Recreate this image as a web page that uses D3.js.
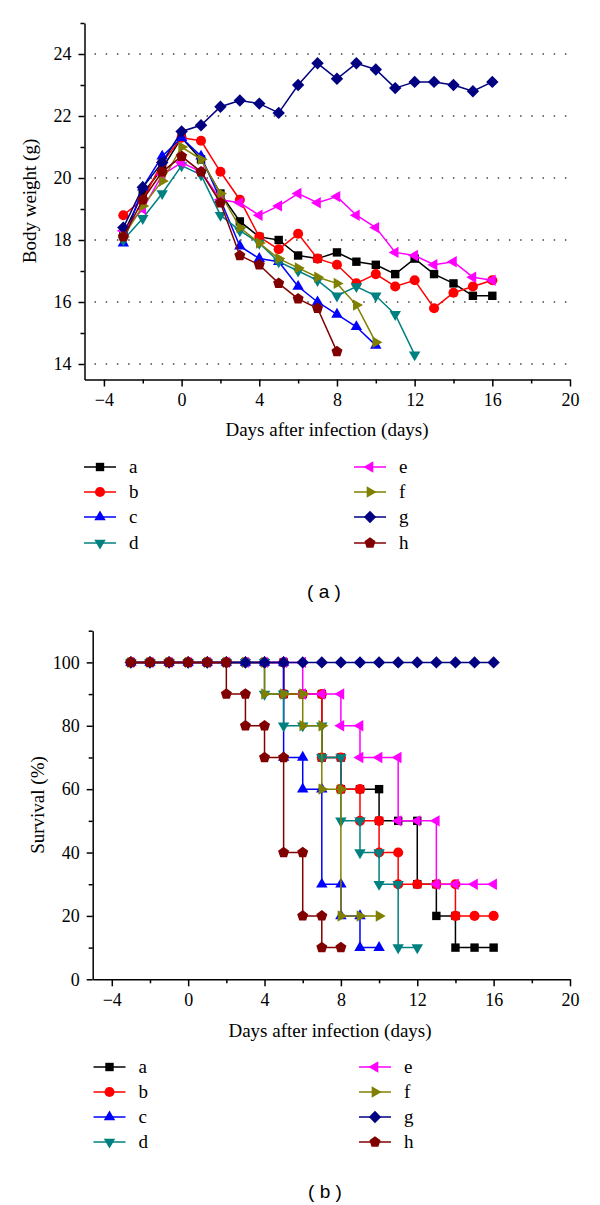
<!DOCTYPE html>
<html><head><meta charset="utf-8">
<script src="https://cdn.jsdelivr.net/npm/d3@7"></script>
<style>
html,body{margin:0;padding:0;background:#fff;}
svg text{font-family:"Liberation Serif","Times New Roman",serif;fill:#000;}
</style></head>
<body>
<svg id="chart" width="600" height="1205"></svg>
<script>
// ---------- DATA ----------
const seriesNames = ["a","b","c","d","e","f","g","h"];
const seriesColors = ["#000000","#ff0000","#0000ff","#008080","#ff00ff","#808000","#000080","#800000"];
const seriesSymbols = ["square","circle","triUp","triDown","triLeft","triRight","diamond","pentagon"];

// Panel (a): body weight (g), days -3 .. 16
const weightDays = [-3,-2,-1,0,1,2,3,4,5,6,7,8,9,10,11,12,13,14,15,16];
const weightA = [18.2,19.5,20.3,21.3,20.6,19.5,18.6,18.1,18.0,17.5,17.4,17.6,17.3,17.2,16.9,17.4,16.9,16.6,16.2,16.2];
const weightB = [18.8,19.3,20.5,21.3,21.2,20.2,19.3,18.1,17.7,18.2,17.4,17.2,16.6,16.9,16.5,16.7,15.8,16.3,16.5,16.7];
const weightC = [17.9,19.7,20.7,21.3,20.7,19.3,17.8,17.4,17.3,16.5,16.0,15.6,15.2,14.6];
const weightD = [18.0,18.7,19.5,20.4,20.1,18.8,18.3,17.9,17.3,17.0,16.7,16.2,16.5,16.2,15.6,14.3];
const weightE = [18.3,19.0,20.1,20.5,20.2,19.3,19.2,18.8,19.1,19.5,19.2,19.4,18.8,18.4,17.6,17.5,17.2,17.3,16.8,16.7];
const weightF = [18.1,19.1,19.9,21.0,20.6,19.5,18.4,17.9,17.4,17.1,16.8,16.6,15.9,14.7];
const weightG = [18.4,19.7,20.5,21.5,21.7,22.3,22.5,22.4,22.1,23.0,23.7,23.2,23.7,23.5,22.9,23.1,23.1,23.0,22.8,23.1];
const weightH = [18.1,19.3,20.2,20.7,20.2,19.2,17.5,17.2,16.6,16.1,15.8,14.4];
const weightTicksX = [-4,0,4,8,12,16,20];
const weightMinorX = [-2,2,6,10,14,18];
const weightTicksY = [14,16,18,20,22,24];
const weightMinorY = [15,17,19,21,23,25];

// Panel (b): survival (%), [day, value] points (step curve)
const survA = [[-3,100],[-2,100],[-1,100],[0,100],[1,100],[2,100],[3,100],[4,100],[5,100],[5,90],[6,90],[7,90],[7,70],[8,70],[8,60],[9,60],[10,60],[10,50],[11,50],[12,50],[12,30],[13,30],[13,20],[14,20],[14,10],[15,10],[16,10]];
const survB = [[-3,100],[-2,100],[-1,100],[0,100],[1,100],[2,100],[3,100],[4,100],[5,100],[5,90],[6,90],[7,90],[7,70],[8,70],[8,60],[9,60],[9,50],[10,50],[10,40],[11,40],[11,30],[12,30],[13,30],[14,30],[14,20],[15,20],[16,20]];
const survC = [[-3,100],[-2,100],[-1,100],[0,100],[1,100],[2,100],[3,100],[4,100],[5,100],[5,70],[6,70],[6,60],[7,60],[7,30],[8,30],[8,20],[9,20],[9,10],[10,10]];
const survD = [[-3,100],[-2,100],[-1,100],[0,100],[1,100],[2,100],[3,100],[4,100],[4,90],[5,90],[5,80],[6,80],[7,80],[7,70],[8,70],[8,50],[9,50],[9,40],[10,40],[10,30],[11,30],[11,10],[12,10]];
const survE = [[-3,100],[-2,100],[-1,100],[0,100],[1,100],[2,100],[3,100],[4,100],[5,100],[6,100],[6,90],[7,90],[8,90],[8,80],[9,80],[9,70],[10,70],[11,70],[11,50],[12,50],[13,50],[13,30],[14,30],[15,30],[16,30]];
const survF = [[-3,100],[-2,100],[-1,100],[0,100],[1,100],[2,100],[3,100],[4,100],[4,90],[5,90],[6,90],[6,80],[7,80],[7,60],[8,60],[8,20],[9,20],[10,20]];
const survG = [[-3,100],[-2,100],[-1,100],[0,100],[1,100],[2,100],[3,100],[4,100],[5,100],[6,100],[7,100],[8,100],[9,100],[10,100],[11,100],[12,100],[13,100],[14,100],[15,100],[16,100]];
const survH = [[-3,100],[-2,100],[-1,100],[0,100],[1,100],[2,100],[2,90],[3,90],[3,80],[4,80],[4,70],[5,70],[5,40],[6,40],[6,20],[7,20],[7,10],[8,10]];
const survTicksX = [-4,0,4,8,12,16,20];
const survMinorX = [-2,2,6,10,14,18];
const survTicksY = [0,20,40,60,80,100];
const survMinorY = [10,30,50,70,90,110];

const xTitle = "Days after infection (days)";
const yTitleA = "Body weight (g)";
const yTitleB = "Survival (%)";

// ---------- DRAW ----------
const svg = d3.select("#chart");

function symbolPath(type){
  const pts = (n, R, rot) => d3.range(n).map(i => {
    const a = rot + i*2*Math.PI/n;
    return [R*Math.cos(a), R*Math.sin(a)];
  });
  const poly = p => "M" + p.map(q => q[0].toFixed(2)+","+q[1].toFixed(2)).join("L") + "Z";
  switch(type){
    case "square": return "M-4.2,-4.2H4.2V4.2H-4.2Z";
    case "circle": return d3.symbol(d3.symbolCircle, 80)();
    case "triUp": return poly(pts(3, 6.6, -Math.PI/2));
    case "triDown": return poly(pts(3, 6.6, Math.PI/2));
    case "triLeft": return poly(pts(3, 6.6, Math.PI));
    case "triRight": return poly(pts(3, 6.6, 0));
    case "diamond": return "M0,-6.2L6.2,0L0,6.2L-6.2,0Z";
    case "pentagon": return poly(pts(5, 5.8, -Math.PI/2));
  }
}

function drawAxes(g, x, y, ticksX, minorX, ticksY, minorY, yFmt){
  const ax = g.append("g").attr("transform", `translate(0,${y.range()[0]})`)
    .call(d3.axisBottom(x).tickValues(ticksX).tickSize(7).tickPadding(7).tickSizeOuter(0).tickFormat(d3.format("d")));
  const axm = g.append("g").attr("transform", `translate(0,${y.range()[0]})`)
    .call(d3.axisBottom(x).tickValues(minorX).tickSize(4).tickFormat(""));
  axm.select(".domain").remove();
  const ay = g.append("g").attr("transform", `translate(${x.range()[0]},0)`)
    .call(d3.axisLeft(y).tickValues(ticksY).tickSize(6).tickPadding(7).tickSizeOuter(0).tickFormat(yFmt));
  const aym = g.append("g").attr("transform", `translate(${x.range()[0]},0)`)
    .call(d3.axisLeft(y).tickValues(minorY).tickSize(4).tickFormat(""));
  aym.select(".domain").remove();
  [ax,axm,ay,aym].forEach(a => {
    a.selectAll("path,line").attr("stroke","#000").attr("stroke-width",1.5);
    a.selectAll("text").style("font-family",'"Liberation Serif",serif').style("font-size","18px").attr("fill","#000");
  });
}

function drawLegend(g, x0, x2, rows){
  seriesNames.forEach((n,i) => {
    const lx = i < 4 ? x0 : x2;
    const ly = rows[i % 4];
    g.append("line").attr("x1", lx).attr("x2", lx+32).attr("y1", ly).attr("y2", ly)
      .attr("stroke", seriesColors[i]).attr("stroke-width", 1.5);
    g.append("path").attr("d", symbolPath(seriesSymbols[i]))
      .attr("transform", `translate(${lx+16},${ly})`).attr("fill", seriesColors[i]);
    g.append("text").attr("x", lx + 45).attr("y", ly).attr("dy","0.32em")
      .style("font-size","19px").text(n);
  });
}

// ---- Panel (a) ----
const weightSeries = [weightA,weightB,weightC,weightD,weightE,weightF,weightG,weightH];
const xA = d3.scaleLinear().domain([-5,20]).range([84.5,570]);
const yA = d3.scaleLinear().domain([13.5,25]).range([379.5,23]);
const gA = svg.append("g");

gA.selectAll("line.grid").data(weightTicksY).join("line")
  .attr("x1", xA(-5)+10).attr("x2", xA(20)).attr("y1", d=>yA(d)).attr("y2", d=>yA(d))
  .attr("stroke","#444").attr("stroke-width",1.6).attr("stroke-dasharray","1.5,9.7");

drawAxes(gA, xA, yA, weightTicksX, weightMinorX, weightTicksY, weightMinorY, d3.format("d"));

weightSeries.forEach((vals,i) => {
  const pts = vals.map((v,j) => [weightDays[j], v]);
  gA.append("path").attr("d", d3.line().x(d=>xA(d[0])).y(d=>yA(d[1]))(pts))
    .attr("fill","none").attr("stroke", seriesColors[i]).attr("stroke-width",1.5);
  gA.selectAll(null).data(pts).join("path")
    .attr("d", symbolPath(seriesSymbols[i]))
    .attr("transform", d=>`translate(${xA(d[0])},${yA(d[1])})`)
    .attr("fill", seriesColors[i]);
});

gA.append("text").attr("x", 327).attr("y", 436).attr("text-anchor","middle").style("font-size","19px").text(xTitle);
gA.append("text").attr("transform","translate(36,201) rotate(-90)").attr("text-anchor","middle").style("font-size","19px").text(yTitleA);
drawLegend(gA, 84, 354, [467,492,517,543]);
gA.append("text").attr("x", 324).attr("y", 591).attr("dy","0.35em").attr("text-anchor","middle")
  .style("font-family",'"Liberation Sans",Arial,sans-serif').style("font-size","19px").text("( a )");

// ---- Panel (b) ----
const survSeries = [survA,survB,survC,survD,survE,survF,survG,survH];
const xB = d3.scaleLinear().domain([-5,20]).range([92.7,570]);
const yB = d3.scaleLinear().domain([0,110]).range([979.3,630.7]);
const gB = svg.append("g");

drawAxes(gB, xB, yB, survTicksX, survMinorX, survTicksY, survMinorY, d3.format("d"));

survSeries.forEach((pts,i) => {
  gB.append("path").attr("d", d3.line().x(d=>xB(d[0])).y(d=>yB(d[1]))(pts))
    .attr("fill","none").attr("stroke", seriesColors[i]).attr("stroke-width",1.5);
  gB.selectAll(null).data(pts).join("path")
    .attr("d", symbolPath(seriesSymbols[i]))
    .attr("transform", d=>`translate(${xB(d[0])},${yB(d[1])})`)
    .attr("fill", seriesColors[i]);
});

gB.append("text").attr("x", 330).attr("y", 1037).attr("text-anchor","middle").style("font-size","19px").text(xTitle);
gB.append("text").attr("transform","translate(44,805) rotate(-90)").attr("text-anchor","middle").style("font-size","19px").text(yTitleB);
drawLegend(gB, 93.5, 359, [1067,1092,1117,1142]);
gB.append("text").attr("x", 325).attr("y", 1191).attr("dy","0.35em").attr("text-anchor","middle")
  .style("font-family",'"Liberation Sans",Arial,sans-serif').style("font-size","19px").text("( b )");
</script>
</body></html>
